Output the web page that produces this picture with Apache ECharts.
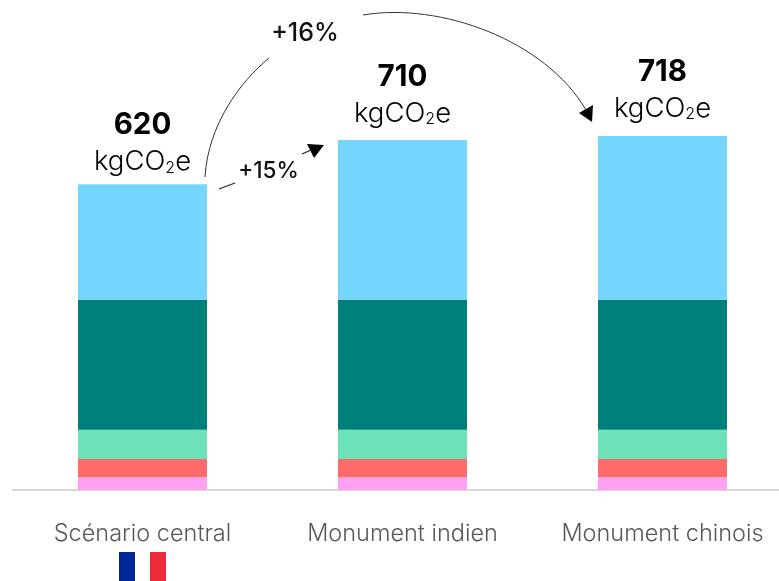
<!DOCTYPE html>
<html><head><meta charset="utf-8">
<style>html,body{margin:0;padding:0;background:#fff}#c{width:779px;height:581px}</style>
<script src="https://cdn.jsdelivr.net/npm/echarts@6/dist/echarts.min.js"></script>
</head><body><div id="c"></div>
<script>
const categories = ['Scénario central','Monument indien','Monument chinois'];
const pink = [26,26,26];
const red = [37,37,37];
const green = [59,59,59];
const teal = [264,264,264];
const blue = [234,324,332];
const totals = [620,710,718];
const unit = 'kgCO';
const FONT = 'Inter';
const labelGaps = [8,12,13];
const chart = echarts.init(document.getElementById('c'),null,{renderer:'canvas'});
const bar = (name,data,color)=>({name,type:'bar',stack:'t',data,barWidth:129,itemStyle:{color},silent:true});
chart.setOption({
  animation:false,
  textStyle:{fontFamily:FONT},
  grid:{left:12.5,width:780,top:95.5,height:394.5,outerBoundsMode:'none'},
  xAxis:{type:'category',data:categories,
    axisLine:{lineStyle:{color:'#D9D9D9',width:2}},axisTick:{show:false},
    axisLabel:{color:'#595959',fontSize:23.5,fontFamily:FONT,fontWeight:300,margin:32,interval:0,hideOverlap:false}},
  yAxis:{type:'value',min:0,max:800,show:false},
  series:[
    bar('a',pink,'#FFA0F0'),bar('b',red,'#FF6B6B'),bar('c',green,'#6DE1B8'),
    bar('d',teal,'#00807A'),bar('e',blue,'#74D6FF'),
    {type:'scatter',symbolSize:1,itemStyle:{color:'transparent',opacity:1},silent:true,
     data:totals.map((v,i)=>({value:v,label:{distance:labelGaps[i]}})),
     label:{show:true,position:'top',opacity:1,formatter:p=>`{v|${totals[p.dataIndex]}}\n{u|${unit}}{s|2}{u|e}`,
      rich:{v:{fontSize:29.5,fontWeight:700,color:'#000',fontFamily:FONT,lineHeight:37,align:'center'},
            u:{fontSize:27.5,color:'#000',fontFamily:FONT,fontWeight:300,lineHeight:32,verticalAlign:'bottom'},
            s:{fontSize:16,color:'#000',fontFamily:FONT,fontWeight:300,lineHeight:32,verticalAlign:'bottom',padding:[14,0,0,0]}}}}
  ],
  graphic:[
    {type:'rect',shape:{x:119,y:552,width:16,height:29},style:{fill:'#00269A'}},
    {type:'rect',shape:{x:150,y:552,width:16,height:29},style:{fill:'#EF2B3B'}},
    {type:'bezierCurve',shape:{x1:205,y1:177,cpx1:208,cpy1:125,cpx2:240,cpy2:82,x2:269,y2:58},style:{stroke:'#333',lineWidth:1,fill:null}},
    {type:'bezierCurve',shape:{x1:363,y1:15,cpx1:440,cpy1:2,cpx2:545,cpy2:40,x2:586,y2:110},style:{stroke:'#333',lineWidth:1,fill:null}},
    {type:'polygon',shape:{points:[[592,122],[579,113],[593,105]]},style:{fill:'#000'}},
    {type:'line',shape:{x1:219,y1:189,x2:235,y2:183},style:{stroke:'#222',lineWidth:1.2}},
    {type:'line',shape:{x1:302,y1:154,x2:311,y2:150},style:{stroke:'#222',lineWidth:1.2}},
    {type:'polygon',shape:{points:[[324,145],[307,144],[314,158]]},style:{fill:'#000'}},
    {type:'text',x:305,y:33,style:{text:'+16%',font:'500 25px '+FONT,fill:'#111',align:'center',verticalAlign:'middle'}},
    {type:'text',x:268.5,y:171,style:{text:'+15%',font:'500 22.5px '+FONT,fill:'#111',align:'center',verticalAlign:'middle'}}
  ]
});
</script></body></html>
